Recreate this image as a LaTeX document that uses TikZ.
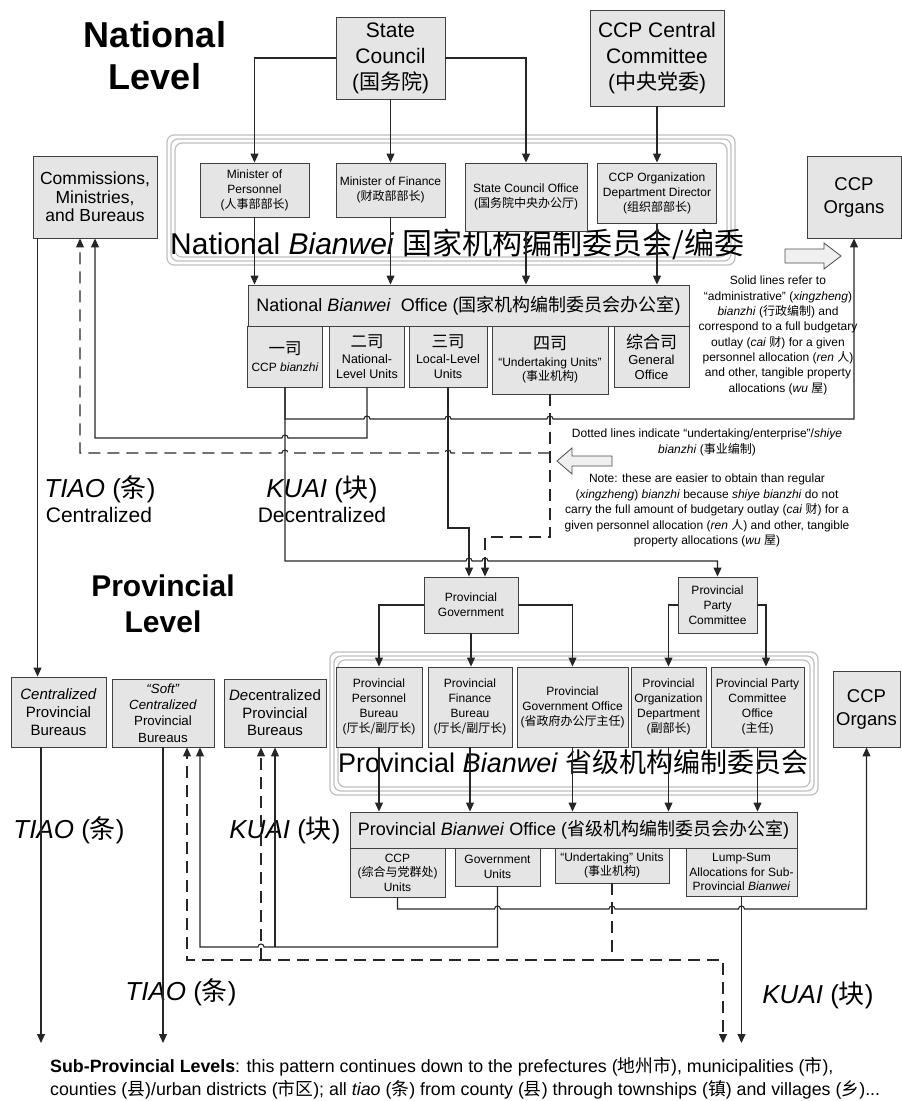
\documentclass[tikz,border=0pt]{standalone}
\usepackage{fontspec}
\setmainfont{Liberation Sans}
\newfontfamily\cjk{Noto Sans CJK SC}
\newcommand{\zh}[1]{{\cjk #1}}
\newcommand{\fs}[2]{\fontsize{#1}{#2}\selectfont}
\usetikzlibrary{arrows.meta}

\begin{document}
\begin{tikzpicture}[x=1pt,y=-1pt,
    box/.style={draw=black!75,fill=black!10,line width=0.9pt,inner sep=1pt,align=center,font=\fs{12}{15}},
    conn/.style={draw=black!85,line width=1.1pt,-{Triangle[length=9pt,width=8pt]}},
    dashline/.style={conn,dash pattern=on 12pt off 7pt},
    frame/.style={draw=black!25,line width=1.2pt,rounded corners=7pt},
    hollow/.style={draw=black!70,fill=black!6,line width=0.8pt},
    testo/.style={inner sep=0pt,align=center}]
        \useasboundingbox (0,0) rectangle (902,1101);

        %titoli dei livelli
        \node[testo,font=\bfseries\fs{36}{42}] (natl) at (155,56) {National\\Level};
        \node[testo,font=\bfseries\fs{30}{36}] (provl) at (163,604) {Provincial\\Level};

        %cornici bianwei
        \draw[frame] (167,135) rectangle (735,265);
        \draw[frame] (171,139) rectangle (731,261);
        \draw[frame] (175,143) rectangle (727,257);
        \draw[frame] (330,652) rectangle (818,795);
        \draw[frame] (334,656) rectangle (814,791);
        \draw[frame] (338,660) rectangle (810,787);
        \node[testo,anchor=base west,font=\fs{30}{34}] (nbw) at (170,254) {National \textit{Bianwei} \zh{国家机构编制委员会/编委}};
        \node[testo,anchor=base west,font=\fs{27}{32}] (pbw) at (338,772) {Provincial \textit{Bianwei} \zh{省级机构编制委员会}};

        %livello nazionale
        \node[box,minimum width=109pt,minimum height=82pt,font=\fs{21}{26}] (sc) at (390.5,58) {State\\Council\\(\zh{国务院})};
        \node[box,minimum width=134pt,minimum height=96pt,font=\fs{21}{26}] (ccc) at (657,58) {CCP Central\\Committee\\(\zh{中央党委})};
        \node[box,minimum width=124pt,minimum height=82pt,font=\fs{17.5}{18.5}] (cmb) at (95,197) {Commissions,\\Ministries,\\and Bureaus};
        \node[box,minimum width=109pt,minimum height=54pt] (mp) at (254.5,190) {Minister of\\Personnel\\(\zh{人事部部长})};
        \node[box,minimum width=109pt,minimum height=54pt] (mf) at (390.5,190) {Minister of Finance\\(\zh{财政部部长})};
        \node[box,minimum width=122pt,minimum height=68pt] (sco) at (526,197) {State Council Office\\(\zh{国务院中央办公厅})};
        \node[box,minimum width=119pt,minimum height=60pt] (cod) at (657,193) {CCP Organization\\Department Director\\(\zh{组织部部长})};
        \node[box,minimum width=94pt,minimum height=82pt,font=\fs{18.5}{23}] (org1) at (854,197) {CCP\\Organs};

        \node[box,minimum width=441pt,minimum height=41pt,font=\fs{18}{22}] (nbo) at (468.5,305.5) {National \textit{Bianwei}\ \ Office (\zh{国家机构编制委员会办公室})};
        \node[box,minimum width=75pt,minimum height=61pt] (d1) at (285,356.5) {\zh{\fs{16.5}{18}一司}\\[2pt]CCP \textit{bianzhi}};
        \node[box,minimum width=75pt,minimum height=61pt,font=\fs{12.5}{14.5}] (d2) at (367,356.5) {\zh{\fs{16.5}{18}二司}\\[2pt]National-\\Level Units};
        \node[box,minimum width=78pt,minimum height=61pt,font=\fs{12.5}{14.5}] (d3) at (448,356.5) {\zh{\fs{16.5}{18}三司}\\[2pt]Local-Level\\Units};
        \node[box,minimum width=116pt,minimum height=68pt,font=\fs{12}{14.5}] (d4) at (550,360) {\zh{\fs{17}{19}四司}\\[2pt]“Undertaking Units”\\(\zh{事业机构})};
        \node[box,minimum width=75pt,minimum height=61pt,font=\fs{13}{14.5}] (d5) at (651.5,356.5) {\zh{\fs{17}{19}综合司}\\[2pt]General\\Office};

        %livello provinciale
        \node[box,minimum width=94pt,minimum height=56pt] (pg) at (471,605) {Provincial\\Government};
        \node[box,minimum width=79pt,minimum height=56pt] (ppc) at (717.5,605) {Provincial\\Party\\Committee};
        \node[box,minimum width=86pt,minimum height=80pt] (pb1) at (379,707) {Provincial\\Personnel\\Bureau\\(\zh{厅长/副厅长})};
        \node[box,minimum width=84pt,minimum height=80pt] (pb2) at (470,707) {Provincial\\Finance\\Bureau\\(\zh{厅长/副厅长})};
        \node[box,minimum width=111pt,minimum height=80pt] (pb3) at (572.5,707) {Provincial\\Government Office\\(\zh{省政府办公厅主任})};
        \node[box,minimum width=75pt,minimum height=80pt] (pb4) at (668.5,707) {Provincial\\Organization\\Department\\(\zh{副部长})};
        \node[box,minimum width=93pt,minimum height=80pt] (pb5) at (757.5,707) {Provincial Party\\Committee\\Office\\(\zh{主任})};
        \node[box,minimum width=67pt,minimum height=76pt,font=\fs{18.5}{23}] (org2) at (866.5,709) {CCP\\Organs};
        \node[box,minimum width=95pt,minimum height=70pt,font=\fs{15}{18}] (cpb) at (58.5,712) {\textit{Centralized}\\Provincial\\Bureaus};
        \node[box,minimum width=102pt,minimum height=68pt,font=\fs{13.3}{16.3}] (spb) at (163,713) {\textit{“Soft”}\\\textit{Centralized}\\Provincial\\Bureaus};
        \node[box,minimum width=102pt,minimum height=68pt,font=\fs{15}{17.5}] (dpb) at (275,713) {\textit{De}centralized\\Provincial\\Bureaus};

        \node[box,minimum width=447pt,minimum height=36pt,font=\fs{18}{22}] (pbo) at (573.5,830) {Provincial \textit{Bianwei} Office (\zh{省级机构编制委员会办公室})};
        \node[box,minimum width=95pt,minimum height=49pt,font=\fs{12}{14.5}] (u1) at (397.5,872.5) {CCP\\(\zh{综合与党群处})\\Units};
        \node[box,minimum width=85pt,minimum height=38pt,font=\fs{12}{14.5}] (u2) at (497.5,867) {Government\\Units};
        \node[box,minimum width=114pt,minimum height=35pt,font=\fs{12}{14.5}] (u3) at (612,865.5) {“Undertaking” Units\\(\zh{事业机构})};
        \node[box,minimum width=111pt,minimum height=48pt,font=\fs{12}{14.5}] (u4) at (741.5,872) {Lump-Sum\\Allocations for Sub-\\Provincial \textit{Bianwei}};

        %punti finali verso i livelli inferiori
        \coordinate (sub1) at (41,1043);
        \coordinate (sub2) at (163,1043);
        \coordinate (sub3) at (723,1043);
        \coordinate (sub4) at (741.5,1043);

        %frecce nazionali
        \draw[conn] (sc.west) -| (mp.north);
        \draw[conn] (sc.south) -- (mf.north);
        \draw[conn] (sc.east) -| (sco.north);
        \draw[conn] (ccc.south) -- (cod.north);
        \foreach \nd in {mp,mf,sco,cod}
            \draw[conn] (\nd.south) -- (\nd.south |- nbo.north);
        \draw[conn] (d1.south) -- (285,419) -- (364,419) arc[start angle=180,end angle=0,radius=3pt]
            -- (445,419) arc[start angle=180,end angle=0,radius=3pt]
            -- (547,419) arc[start angle=180,end angle=0,radius=3pt] -| (org1.south);
        \draw[conn] (d2.south) -- (367,438) -- (288,438) arc[start angle=0,end angle=180,radius=3pt] -| (cmb.south);
        \draw[dashline] (d4.south |- 0,453) -- (451,453) arc[start angle=0,end angle=180,radius=3pt]
            -- (288,453) arc[start angle=0,end angle=180,radius=3pt] -| ([xshift=-15pt]cmb.south);
        \draw[dashline] (d4.south) -- (550,537) -| ([xshift=14pt]pg.north);
        \draw[conn] (d3.south) -- (448,528) -| ([xshift=-2pt]pg.north);
        \draw[conn] (d1.south) -- (285,561) -- (466,561) arc[start angle=180,end angle=0,radius=3pt]
            -- (482,561) arc[start angle=180,end angle=0,radius=3pt] -| (ppc.north);
        \draw[conn] ([xshift=5pt]cmb.south west) -- ([xshift=5pt]cmb.south west |- cpb.north);

        %note a destra
        \draw[hollow] (785,249) -- (824,249) -- (824,243) -- (841,256) -- (824,269) -- (824,263) -- (785,263) -- cycle;
        \node[testo,anchor=north,font=\fs{12}{15.3}] (solid) at (778,276) {Solid lines refer to\\“administrative” (\textit{xingzheng})\\\textit{bianzhi} (\zh{行政编制}) and\\correspond to a full budgetary\\outlay (\textit{cai} \zh{财}) for a given\\personnel allocation (\textit{ren} \zh{人})\\and other, tangible property\\allocations (\textit{wu} \zh{屋})};
        \node[testo,anchor=north,font=\fs{12}{16}] (dotted) at (707,429) {Dotted lines indicate “undertaking/enterprise”/\textit{shiye}\\\textit{bianzhi} (\zh{事业编制})};
        \draw[hollow] (557,461) -- (572,448) -- (572,456) -- (612,456) -- (612,466) -- (572,466) -- (572,474) -- cycle;
        \node[testo,anchor=north,font=\fs{12}{15.4}] (note) at (707,474) {Note: these are easier to obtain than regular\\(\textit{xingzheng}) \textit{bianzhi} because \textit{shiye bianzhi} do not\\carry the full amount of budgetary outlay (\textit{cai} \zh{财}) for a\\given personnel allocation (\textit{ren} \zh{人}) and other, tangible\\property allocations (\textit{wu} \zh{屋})};

        %tiao e kuai
        \node[testo,anchor=base,font=\fs{26}{30}] (tiao1) at (100,497) {\textit{TIAO} (\zh{条})};
        \node[testo,anchor=base,font=\fs{21}{25}] (cent) at (99,522) {Centralized};
        \node[testo,anchor=base,font=\fs{26}{30}] (kuai1) at (322,497) {\textit{KUAI} (\zh{块})};
        \node[testo,anchor=base,font=\fs{21}{25}] (decent) at (322,522) {Decentralized};
        \node[testo,anchor=base,font=\fs{26}{30}] (tiao2) at (69,838) {\textit{TIAO} (\zh{条})};
        \node[testo,anchor=base,font=\fs{26}{30}] (kuai2) at (285,838) {\textit{KUAI} (\zh{块})};
        \node[testo,anchor=base,font=\fs{26}{30}] (tiao3) at (181,1000) {\textit{TIAO} (\zh{条})};
        \node[testo,anchor=base,font=\fs{26}{30}] (kuai3) at (818,1003) {\textit{KUAI} (\zh{块})};

        %frecce provinciali
        \draw[conn] (pg.west) -| (pb1.north);
        \draw[conn] (pg.south) -- (pg.south |- pb2.north);
        \draw[conn] (pg.east) -| (pb3.north);
        \draw[conn] (ppc.west) -| (pb4.north);
        \draw[conn] (ppc.east) -| ([xshift=8.5pt]pb5.north);
        \foreach \nd in {pb1,pb2,pb3,pb4,pb5}
            \draw[conn] (\nd.south) -- (\nd.south |- pbo.north);
        \draw[conn] (u1.south) -- (397.5,909) -- (494.5,909) arc[start angle=180,end angle=0,radius=3pt]
            -- (609,909) arc[start angle=180,end angle=0,radius=3pt]
            -- (738.5,909) arc[start angle=180,end angle=0,radius=3pt] -| (org2.south);
        \draw[conn] (u2.south) -- (497.5,947) -- (264,947) arc[start angle=0,end angle=180,radius=3pt] -| ([xshift=37pt]spb.south);
        \draw[conn] (dpb.south |- 0,947) -- (dpb.south);
        \draw[dashline] (u3.south) -- (612,960) -| ([xshift=24pt]spb.south);
        \draw[dashline] ([xshift=-14pt]dpb.south |- 0,960) -- ([xshift=-14pt]dpb.south);
        \draw[dashline] (612,960) -| (sub3);
        \draw[conn] (u4.south) -- (sub4);
        \draw[conn] ([xshift=-17.5pt]cpb.south) -- (sub1);
        \draw[conn] (spb.south) -- (sub2);

        %testo in basso
        \node[testo,anchor=north west,align=left,font=\fs{17.8}{23.5}] (subtxt) at (50,1057) {\textbf{Sub-Provincial Levels}: this pattern continues down to the prefectures (\zh{地州市}), municipalities (\zh{市}),\\counties (\zh{县})/urban districts (\zh{市区}); all \textit{tiao} (\zh{条}) from county (\zh{县}) through townships (\zh{镇}) and villages (\zh{乡})...};
\end{tikzpicture}
\end{document}
